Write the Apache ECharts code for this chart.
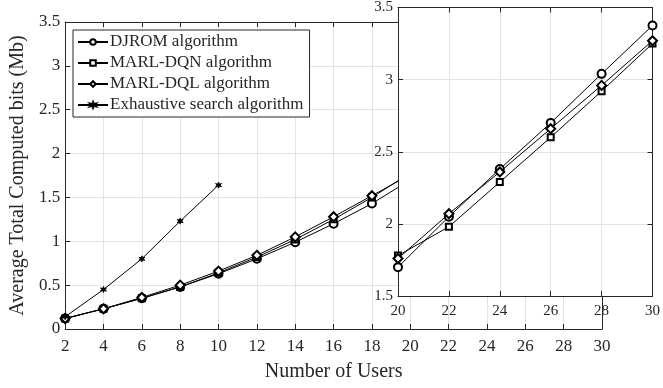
<!DOCTYPE html>
<html>
<head>
<meta charset="utf-8">
<script src="https://cdn.jsdelivr.net/npm/echarts@6/dist/echarts.min.js"></script>
<style>
  html, body { margin: 0; padding: 0; background: #fff; }
  #chart { width: 663px; height: 388px; }
</style>
</head>
<body>
<div id="chart"></div>
<script>
// Number of users on the horizontal axis
const users = [2, 4, 6, 8, 10, 12, 14, 16, 18, 20, 22, 24, 26, 28, 30];
const exhaustiveUsers = [2, 4, 6, 8, 10];

// Average total computed bits (Mb)
const djrom      = [0.12, 0.23, 0.35, 0.48, 0.63, 0.80, 0.99, 1.20, 1.43, 1.70, 2.05, 2.38, 2.70, 3.04, 3.375];
const marlDqn    = [0.12, 0.23, 0.35, 0.48, 0.64, 0.82, 1.02, 1.25, 1.50, 1.78, 1.98, 2.29, 2.60, 2.92, 3.25];
const marlDql    = [0.12, 0.23, 0.36, 0.50, 0.66, 0.84, 1.05, 1.28, 1.52, 1.76, 2.07, 2.36, 2.66, 2.96, 3.27];
const exhaustive = [0.14, 0.45, 0.80, 1.23, 1.64];

// Zoomed-in window
const zoomFrom = 20;

const seriesNames = ['DJROM algorithm', 'MARL-DQN algorithm', 'MARL-DQL algorithm', 'Exhaustive search algorithm'];

const FONT = '"Liberation Serif", "Times New Roman", serif';
const INK = '#262626';
const GRID_LINE = '#e3e3e3';
const STAR = 'path://M0,-10 L2,-3.5 L8.7,-5 L4,0 L8.7,5 L2,3.5 L0,10 L-2,3.5 L-8.7,5 L-4,0 L-8.7,-5 L-2,-3.5 Z';

const pairs = (xs, ys) => xs.map((x, i) => [x, ys[i]]);
const zoomPairs = (ys) => pairs(users, ys).filter(p => p[0] >= zoomFrom);

const markers = [
  { symbol: 'emptyCircle', symbolSize: 8 },
  { symbol: 'emptyRect', symbolSize: 6 },
  { symbol: 'emptyDiamond', symbolSize: 9 },
  { symbol: STAR, symbolSize: 6 }
];

function lineSeries(name, data, mk, xi, yi, z) {
  return {
    name: name,
    type: 'line',
    xAxisIndex: xi,
    yAxisIndex: yi,
    data: data,
    symbol: mk.symbol,
    symbolSize: mk.symbolSize,
    showAllSymbol: true,
    z: z,
    lineStyle: { color: '#000', width: 1 },
    itemStyle: { color: '#000', borderColor: '#000', borderWidth: 1 },
    emphasis: { disabled: true },
    animation: false
  };
}

function valueAxis(extra) {
  return Object.assign({
    type: 'value',
    axisLine: { show: true, onZero: false, lineStyle: { color: INK, width: 1 } },
    axisTick: { show: true, inside: true, length: 5, lineStyle: { color: INK } },
    splitLine: { show: true, lineStyle: { color: GRID_LINE, width: 1 } },
    axisLabel: { color: INK, fontFamily: FONT, fontSize: 17 }
  }, extra);
}

const chart = echarts.init(document.getElementById('chart'), null, { renderer: 'canvas' });

const option = {
  backgroundColor: '#fff',
  animation: false,
  grid: [
    { left: 64, right: 61, top: 22, bottom: 59, containLabel: false },
    { left: 398, right: 8, top: 7, bottom: 92, containLabel: false,
      show: true, backgroundColor: '#fff', borderWidth: 0, z: 10 }
  ],
  legend: {
    orient: 'vertical',
    left: 73,
    top: 30,
    z: 20,
    data: seriesNames,
    backgroundColor: '#fff',
    borderColor: INK,
    borderWidth: 1,
    padding: [2, 6, 2, 4],
    itemWidth: 30,
    itemHeight: 7,
    itemGap: 1,
    textStyle: { color: INK, fontFamily: FONT, fontSize: 17, lineHeight: 20, padding: [0, 0, 0, -3] }
  },
  xAxis: [
    valueAxis({ gridIndex: 0, min: 2, max: 30, interval: 2, position: 'bottom',
      name: 'Number of Users', nameLocation: 'middle', nameGap: 33,
      nameTextStyle: { color: INK, fontFamily: FONT, fontSize: 20 },
      axisLabel: { color: INK, fontFamily: FONT, fontSize: 17, margin: 9 } }),
    valueAxis({ gridIndex: 0, min: 2, max: 30, interval: 2, position: 'top',
      axisLabel: { show: false }, splitLine: { show: false } }),
    valueAxis({ gridIndex: 1, min: 20, max: 30, interval: 2, position: 'bottom', z: 11,
      axisLabel: { color: INK, fontFamily: FONT, fontSize: 15, margin: 8 } }),
    valueAxis({ gridIndex: 1, min: 20, max: 30, interval: 2, position: 'top', z: 11,
      axisLabel: { show: false }, splitLine: { show: false } })
  ],
  yAxis: [
    valueAxis({ gridIndex: 0, min: 0, max: 3.5, interval: 0.5, position: 'left',
      name: 'Average Total Computed bits (Mb)', nameLocation: 'middle', nameGap: 29,
      nameTextStyle: { color: INK, fontFamily: FONT, fontSize: 20 },
      axisLabel: { color: INK, fontFamily: FONT, fontSize: 17, margin: 5 } }),
    valueAxis({ gridIndex: 0, min: 0, max: 3.5, interval: 0.5, position: 'right',
      axisLabel: { show: false }, splitLine: { show: false } }),
    valueAxis({ gridIndex: 1, min: 1.5, max: 3.5, interval: 0.5, position: 'left', z: 11,
      axisLabel: { color: INK, fontFamily: FONT, fontSize: 15, margin: 5 } }),
    valueAxis({ gridIndex: 1, min: 1.5, max: 3.5, interval: 0.5, position: 'right', z: 11,
      axisLabel: { show: false }, splitLine: { show: false } })
  ],
  series: [
    lineSeries(seriesNames[0], pairs(users, djrom), markers[0], 0, 0, 2),
    lineSeries(seriesNames[1], pairs(users, marlDqn), markers[1], 0, 0, 2),
    lineSeries(seriesNames[2], pairs(users, marlDql), markers[2], 0, 0, 2),
    lineSeries(seriesNames[3], pairs(exhaustiveUsers, exhaustive), markers[3], 0, 0, 2),
    lineSeries(seriesNames[0], zoomPairs(djrom), markers[0], 2, 2, 12),
    lineSeries(seriesNames[1], zoomPairs(marlDqn), markers[1], 2, 2, 12),
    lineSeries(seriesNames[2], zoomPairs(marlDql), markers[2], 2, 2, 12)
  ]
};

chart.setOption(option);
</script>
</body>
</html>
